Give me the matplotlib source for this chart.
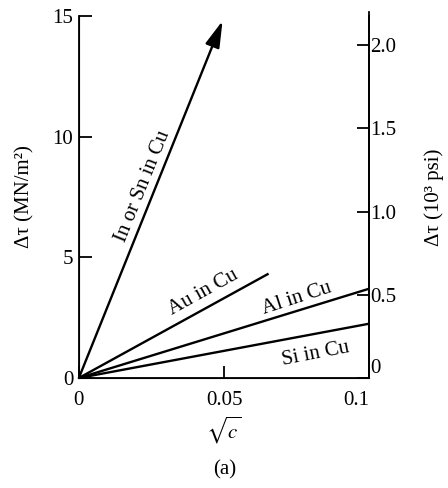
import numpy as np
import matplotlib
matplotlib.use('Agg')
import matplotlib.pyplot as plt

plt.rcParams['font.family'] = ['Liberation Serif', 'DejaVu Serif']
plt.rcParams['mathtext.fontset'] = 'stix'

# end points of the straight lines (sqrt(c), delta tau in MN/m^2)
labels = ['In or Sn in Cu', 'Au in Cu', 'Al in Cu', 'Si in Cu']
x_end = [0.0495, 0.065, 0.1, 0.1]
y_end = [14.8, 4.3, 3.7, 2.25]

# label anchor and rotation
lab_x = [0.0222, 0.043, 0.075, 0.0815]
lab_y = [7.95, 3.55, 3.3, 1.0]
lab_rot = [68, 29, 18, 11]

x_ticks = [0, 0.05, 0.1]
x_ticklabels = ['0', '0.05', '0.1']
y_ticks = [0, 5, 10, 15]
psi_ticks = [0, 0.5, 1.0, 1.5, 2.0]
psi_ticklabels = ['0', '0.5', '1.0', '1.5', '2.0']
MN_TO_KPSI = 0.145

fs = 15

fig = plt.figure(figsize=(4.48, 4.88), dpi=100)
ax = fig.add_axes([0.176, 0.2254, 0.648, 0.7418])

for i, lab in enumerate(labels):
    if i == 0:
        ax.annotate('', xy=(x_end[i], y_end[i]), xytext=(0, 0),
                    arrowprops=dict(arrowstyle='-|>,head_length=0.9,head_width=0.25',
                                    color='k', lw=1.7, mutation_scale=18,
                                    shrinkA=0, shrinkB=0))
    else:
        ax.plot([0, x_end[i]], [0, y_end[i]], color='k', lw=1.7)
    ax.text(lab_x[i], lab_y[i], lab, rotation=lab_rot[i], fontsize=fs,
            ha='center', va='center', rotation_mode='anchor')

ax.set_xlim(0, 0.1)
ax.set_ylim(0, 15)
ax.set_xticks(x_ticks)
ax.set_xticklabels(x_ticklabels)
ax.set_yticks(y_ticks)
ax.tick_params(direction='in', length=9, width=1.3, labelsize=fs)
ax.tick_params(axis='x', pad=9)
ax.tick_params(axis='y', pad=4)
ax.get_xticklabels()[2].set_horizontalalignment('right')
ax.spines['top'].set_visible(False)
for s in ['left', 'bottom', 'right']:
    ax.spines[s].set_linewidth(1.3)

ax2 = ax.twinx()
ax2.set_ylim(0, 15 * MN_TO_KPSI)
ax2.set_yticks(psi_ticks)
ax2.set_yticklabels(psi_ticklabels)
ax2.tick_params(direction='in', length=9, width=1.3, labelsize=fs, pad=1)
ax2.get_yticklabels()[0].set_verticalalignment('bottom')
ax2.spines['top'].set_visible(False)
ax2.spines['right'].set_linewidth(1.3)
ax2.spines['right'].set_bounds(0, 2.2)

ax.set_ylabel('Δτ (MN/m²)', fontsize=fs, labelpad=13)
ax2.set_ylabel('Δτ (10³ psi)', fontsize=fs, labelpad=20)
ax.set_xlabel(r'$\sqrt{c}$', fontsize=fs, labelpad=4)
fig.text(0.502, 0.027, '(a)', ha='center', fontsize=fs)

fig.savefig('out.png', dpi=100)
